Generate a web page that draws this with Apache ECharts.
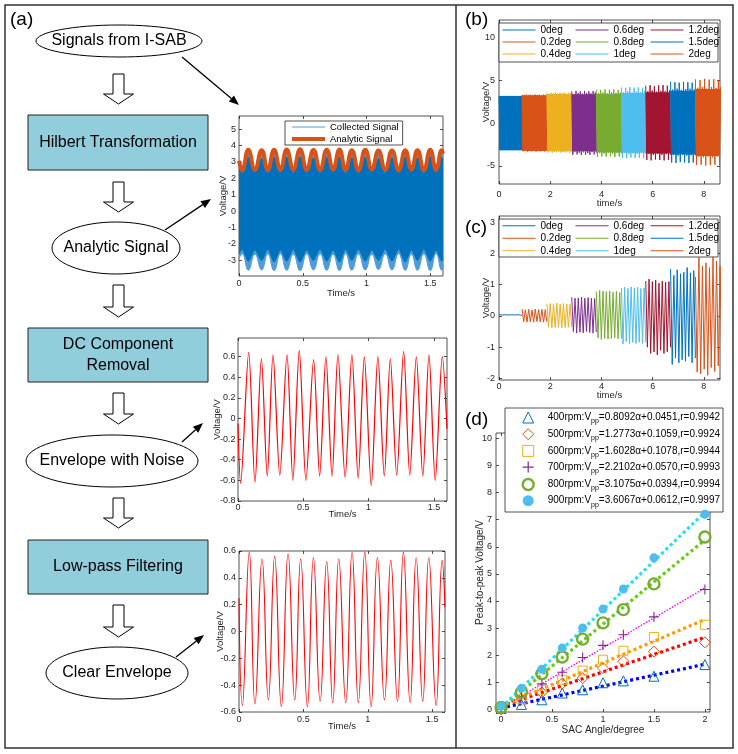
<!DOCTYPE html>
<html><head><meta charset="utf-8">
<script src="https://cdn.jsdelivr.net/npm/echarts@6/dist/echarts.min.js"></script>
<style>html,body{margin:0;padding:0;background:#fff}#c{width:738px;height:754px}</style>
</head><body><div id="c"></div>
<script>
// ---------------- DATA ----------------
// (a) chart 1 : collected signal / analytic signal (times of troughs & peaks)
const A1_T = [0,0.025,0.073,0.125,0.178,0.226,0.275,0.325,0.374,0.426,0.479,0.531,0.584,0.636,0.688,0.738,0.788,0.836,0.885,0.937,0.99,1.042,1.094,1.147,1.2,1.252,1.304,1.352,1.4,1.45,1.5,1.546,1.59,1.6];
const A1_ANALYTIC = [3.07,2.5,3.75,2.52,3.72,2.5,3.74,2.52,3.76,2.55,3.77,2.52,3.73,2.5,3.74,2.55,3.76,2.52,3.72,2.5,3.74,2.55,3.7,2.52,3.7,2.5,3.72,2.55,3.72,2.5,3.74,2.52,3.72,3.5];
const A1_LIGHT_LOW = [-2.9,-2.6,-3.6,-2.62,-3.58,-2.6,-3.62,-2.6,-3.6,-2.62,-3.62,-2.6,-3.58,-2.6,-3.6,-2.62,-3.62,-2.58,-3.6,-2.6,-3.58,-2.62,-3.56,-2.6,-3.58,-2.58,-3.6,-2.62,-3.6,-2.6,-3.62,-2.58,-3.6,-3.3];
const A1_DARK_UP = [2.6,2.3,3.3,2.35,3.2,2.3,3.3,2.35,3.3,2.3,3.3,2.35,3.25,2.3,3.3,2.35,3.3,2.3,3.25,2.3,3.3,2.35,3.2,2.3,3.25,2.3,3.3,2.35,3.25,2.3,3.3,2.35,3.3,3.1];
const A1_DARK_LOW = [-2.6,-2.3,-3.05,-2.35,-3.0,-2.3,-3.1,-2.35,-3.05,-2.3,-3.1,-2.35,-3.0,-2.3,-3.05,-2.35,-3.1,-2.3,-3.0,-2.3,-3.05,-2.35,-3.0,-2.3,-3.05,-2.3,-3.1,-2.35,-3.0,-2.3,-3.05,-2.35,-3.05,-2.9];
const A1_X_TICKS = [0,0.5,1,1.5];
const A1_Y_TICKS = [-3,-2,-1,0,1,2,3,4,5];

// (a) chart 2 : envelope with noise (extremes)
const A2_T = [0,0.02,0.082,0.13,0.179,0.224,0.268,0.32,0.375,0.42,0.469,0.52,0.579,0.625,0.673,0.72,0.765,0.82,0.872,0.92,0.967,1.02,1.071,1.12,1.166,1.215,1.268,1.315,1.365,1.415,1.462,1.51,1.564,1.6];
const A2_V = [-0.05,-0.63,0.64,-0.62,0.58,-0.56,0.62,-0.55,0.62,-0.6,0.66,-0.6,0.57,-0.56,0.6,-0.56,0.62,-0.57,0.62,-0.58,0.6,-0.65,0.6,-0.56,0.58,-0.55,0.65,-0.55,0.6,-0.56,0.62,-0.6,0.6,-0.1];
const A2_Y_TICKS = [-0.8,-0.6,-0.4,-0.2,0,0.2,0.4,0.6];

// (a) chart 3 : clear envelope (extremes)
const A3_T = [0,0.026,0.080,0.124,0.179,0.228,0.277,0.329,0.381,0.433,0.479,0.531,0.578,0.630,0.681,0.728,0.775,0.829,0.878,0.927,0.977,1.026,1.075,1.130,1.179,1.231,1.277,1.329,1.376,1.427,1.474,1.531,1.578,1.6];
const A3_V = [0.25,-0.55,0.59,-0.54,0.54,-0.51,0.56,-0.56,0.58,-0.51,0.54,-0.56,0.55,-0.52,0.52,-0.53,0.54,-0.53,0.59,-0.53,0.59,-0.56,0.55,-0.51,0.53,-0.52,0.59,-0.53,0.55,-0.52,0.55,-0.55,0.53,0.18];
const A3_Y_TICKS = [-0.6,-0.4,-0.2,0,0.2,0.4,0.6];

// (b),(c) segments
const DEG_NAMES = ['0deg','0.2deg','0.4deg','0.6deg','0.8deg','1deg','1.2deg','1.5deg','2deg'];
const DEG_COLORS = ['#0072BD','#D95319','#EDB120','#7E2F8E','#77AC30','#4DBEEE','#A2142F','#0072BD','#D95319'];
const SEG_BOUNDS = [0,0.9,1.87,2.84,3.8,4.78,5.73,6.7,7.67,8.7];
const B_TOPS = [
 [3.16,3.16,3.16,3.16,3.16,3.16,3.16,3.16,3.16,3.16,3.16,3.16],
 [3.3,3.26,3.32,3.28,3.3,3.25,3.33,3.27,3.31,3.26,3.32,3.28],
 [3.55,3.4,3.52,3.45,3.56,3.42,3.5,3.46,3.55,3.4,3.52,3.48],
 [3.7,3.4,3.75,3.5,3.68,3.42,3.74,3.5,3.7,3.45,3.72,3.55],
 [3.9,3.5,3.85,3.55,3.92,3.45,3.88,3.6,3.9,3.5,3.86,3.55],
 [4.15,3.6,4.1,3.7,4.18,3.55,4.12,3.65,4.15,3.6,4.1,3.7],
 [4.35,3.7,4.4,3.8,4.3,3.65,4.38,3.75,4.42,3.7,4.35,3.8],
 [4.8,3.9,4.75,4.0,4.7,3.85,4.8,3.95,4.75,4.0,4.7,3.9],
 [5.1,4.1,5.0,4.2,5.15,4.0,5.05,4.2,5.1,4.1,5.0,4.2]];
const B_BOTS = [
 [-3.16,-3.16,-3.16,-3.16,-3.16,-3.16,-3.16,-3.16,-3.16,-3.16,-3.16,-3.16],
 [-3.3,-3.26,-3.32,-3.27,-3.3,-3.25,-3.32,-3.28,-3.3,-3.26,-3.31,-3.27],
 [-3.42,-3.3,-3.45,-3.35,-3.4,-3.32,-3.44,-3.36,-3.42,-3.3,-3.45,-3.38],
 [-3.7,-3.35,-3.65,-3.45,-3.72,-3.4,-3.68,-3.5,-3.7,-3.38,-3.66,-3.45],
 [-3.95,-3.5,-3.9,-3.55,-3.92,-3.45,-3.88,-3.6,-3.95,-3.5,-3.9,-3.55],
 [-4.05,-3.5,-4.1,-3.6,-4.0,-3.55,-4.08,-3.6,-4.05,-3.5,-4.1,-3.6],
 [-4.3,-3.6,-4.35,-3.7,-4.25,-3.6,-4.3,-3.7,-4.35,-3.6,-4.3,-3.7],
 [-4.6,-3.7,-4.65,-3.8,-4.55,-3.7,-4.6,-3.8,-4.65,-3.75,-4.6,-3.7],
 [-4.9,-3.9,-4.85,-4.0,-4.95,-3.9,-4.9,-4.0,-4.85,-3.9,-4.9,-4.0]];
// solid core of each block in (b)
const B_CORE_TOP = [3.16,3.25,3.38,3.35,3.42,3.5,3.6,3.75,3.95];
const B_CORE_BOT = [-3.16,-3.25,-3.3,-3.3,-3.42,-3.45,-3.55,-3.65,-3.85];
const B_X_TICKS = [0,2,4,6,8];
const B_Y_TICKS = [-5,0,5,10];

const C_TOPS = [
 [0.04,0.03,0.04,0.03,0.04,0.03,0.04,0.03],
 [0.22,0.2,0.21,0.19,0.22,0.2,0.21,0.2],
 [0.38,0.4,0.39,0.41,0.38,0.4,0.39,0.37],
 [0.6,0.57,0.58,0.6,0.57,0.59,0.57,0.56],
 [0.78,0.82,0.8,0.78,0.8,0.76,0.79,0.75],
 [0.9,0.92,0.88,0.93,0.9,0.92,0.88,0.9],
 [1.12,1.18,1.1,1.15,1.05,1.12,1.08,1.1],
 [1.5,1.3,1.48,1.35,1.4,1.55,1.38,1.45],
 [1.25,1.88,1.6,1.7,1.55,1.9,1.75,1.6]];
const C_BOTS = [
 [0.0,0.01,0.0,0.01,0.0,0.01,0.0,0.01],
 [-0.18,-0.2,-0.19,-0.2,-0.18,-0.19,-0.2,-0.19],
 [-0.36,-0.38,-0.37,-0.36,-0.38,-0.37,-0.36,-0.35],
 [-0.5,-0.55,-0.52,-0.54,-0.5,-0.53,-0.55,-0.52],
 [-0.7,-0.75,-0.72,-0.74,-0.72,-0.7,-0.73,-0.72],
 [-0.9,-0.82,-0.88,-0.85,-0.88,-0.84,-0.88,-0.85],
 [-1.0,-1.2,-1.15,-1.25,-1.1,-1.2,-1.15,-1.0],
 [-1.55,-1.35,-1.5,-1.4,-1.45,-1.3,-1.5,-1.35],
 [-1.8,-1.85,-1.7,-1.9,-1.65,-1.78,-1.6,-1.5]];
const C_Y_TICKS = [-2,-1,0,1,2,3];

// (d) peak-to-peak voltage vs angle
const D_ANGLES = [0,0.2,0.4,0.6,0.8,1,1.2,1.5,2];
const D_400 = [0.03,0.18,0.35,0.6,0.72,0.98,1.05,1.22,1.65];
const D_500 = [0.0,0.38,0.62,0.95,1.15,1.52,1.77,2.13,2.47];
const D_600 = [0.07,0.37,0.72,1.09,1.43,1.83,2.16,2.67,3.12];
const D_700 = [0.07,0.47,0.94,1.37,1.91,2.36,2.75,3.41,4.42];
const D_800 = [0.07,0.63,1.31,1.93,2.59,3.19,3.68,4.63,6.36];
const D_900 = [0.12,0.78,1.48,2.26,3.0,3.7,4.44,5.59,7.2];
const D_RPM = ['400rpm','500rpm','600rpm','700rpm','800rpm','900rpm'];
const D_SLOPE = [0.8092,1.2773,1.6028,2.2102,3.1075,3.6067];
const D_INTER = [0.0451,0.1059,0.1078,0.0570,0.0394,0.0612];
const D_R = [0.9942,0.9924,0.9944,0.9993,0.9994,0.9997];
const D_X_TICKS = [0,0.5,1,1.5,2];
const D_Y_TICKS = [0,1,2,3,4,5,6,7,8,9,10];

// ---------------- BUILD ----------------
const FONT = '"Liberation Sans", Arial, sans-serif';
const AX = '#262626';
const zip = (t, v) => t.map((x, i) => [x, v[i]]);

const grids = [
  {left:239, top:116, width:204, height:160},
  {left:238, top:338, width:209, height:163},
  {left:239, top:551, width:206, height:161},
  {left:499, top:20,  width:221, height:164},
  {left:499, top:216, width:221, height:164},
  {left:496, top:433, width:214, height:279}
].map(g => Object.assign(g, {show:true, borderColor:AX, borderWidth:0.8, backgroundColor:'rgba(0,0,0,0)', containLabel:false, outerBoundsMode:'none'}));

const xAxes = [], yAxes = [];
function tick(vals){ return {show:true, inside:true, length:3, customValues:vals, lineStyle:{color:AX, width:0.8}}; }
function addAxes(gi, c){
  const base = {gridIndex:gi, type:'value', splitLine:{show:false}, axisLine:{show:false, onZero:false}};
  const xi = xAxes.length, yi = yAxes.length;
  xAxes.push(Object.assign({}, base, {min:c.x[0], max:c.x[1], position:'bottom', axisTick:tick(c.xt),
    axisLabel:{customValues:c.xt, fontSize:9, color:AX, margin:c.xm, fontFamily:FONT},
    name:c.xn, nameLocation:'middle', nameGap:c.xg, nameMoveOverlap:false,
    nameTextStyle:{fontSize:c.nf||9.5, color:AX, fontFamily:FONT}}));
  xAxes.push(Object.assign({}, base, {min:c.x[0], max:c.x[1], position:'top', axisTick:tick(c.xt), axisLabel:{show:false}}));
  yAxes.push(Object.assign({}, base, {min:c.y[0], max:c.y[1], position:'left', axisTick:tick(c.yt),
    axisLabel:{customValues:c.yt, fontSize:9, color:AX, margin:c.ym, fontFamily:FONT},
    name:c.yn, nameLocation:'middle', nameGap:c.yg, nameMoveOverlap:false,
    nameTextStyle:{fontSize:c.nf||9.5, color:AX, fontFamily:FONT}}));
  yAxes.push(Object.assign({}, base, {min:c.y[0], max:c.y[1], position:'right', axisTick:tick(c.yt), axisLabel:{show:false}}));
  return {xAxisIndex:xi, yAxisIndex:yi};
}
const ax0 = addAxes(0,{x:[0,1.6],xt:A1_X_TICKS,xm:3.5,xg:12,xn:'Time/s', y:[-3.95,5.8],yt:A1_Y_TICKS,ym:3,yg:11,yn:'Voltage/V'});
const ax1 = addAxes(1,{x:[0,1.6],xt:A1_X_TICKS,xm:2,xg:8,xn:'Time/s', y:[-0.8,0.78],yt:A2_Y_TICKS,ym:2.5,yg:16,yn:'Voltage/V'});
const ax2 = addAxes(2,{x:[0,1.6],xt:A1_X_TICKS,xm:3.5,xg:9,xn:'Time/s', y:[-0.6,0.6],yt:A3_Y_TICKS,ym:3,yg:14,yn:'Voltage/V'});
const ax3 = addAxes(3,{x:[0,8.63],xt:B_X_TICKS,xm:6,xg:14,xn:'time/s', y:[-7.1,12],yt:B_Y_TICKS,ym:4,yg:8,yn:'Voltage/V'});
const ax4 = addAxes(4,{x:[0,8.63],xt:B_X_TICKS,xm:2,xg:10,xn:'time/s', y:[-2.05,3.2],yt:C_Y_TICKS,ym:4,yg:8,yn:'Voltage/V'});
const ax5 = addAxes(5,{x:[-0.05,2.05],xt:D_X_TICKS,xm:3.5,xg:13,xn:'SAC Angle/degree', y:[-0.1,10.2],yt:D_Y_TICKS,ym:4,yg:11,yn:'Peak-to-peak Voltage/V', nf:10});

const series = [];
// chart 1 : upper/lower bands filled towards an overlapping origin (no seam at 0)
const LIGHT = '#4E9DD8', DARK = '#0072BD';
series.push(Object.assign({type:'line', name:'Collected Signal', data:zip(A1_T, A1_ANALYTIC), smooth:0.5, symbol:'none',
  lineStyle:{width:1, color:LIGHT}, itemStyle:{color:LIGHT}, areaStyle:{color:LIGHT, opacity:1, origin:-1}, z:1}, ax0));
series.push(Object.assign({type:'line', name:'c-low', data:zip(A1_T, A1_LIGHT_LOW), smooth:0.5, symbol:'none',
  lineStyle:{width:1, color:LIGHT}, areaStyle:{color:LIGHT, opacity:1, origin:1}, z:1}, ax0));
series.push(Object.assign({type:'line', name:'c-dark-up', data:zip(A1_T, A1_DARK_UP), smooth:0.2, symbol:'none',
  lineStyle:{width:1, color:DARK}, areaStyle:{color:DARK, opacity:1, origin:-1}, z:1}, ax0));
series.push(Object.assign({type:'line', name:'c-dark-low', data:zip(A1_T, A1_DARK_LOW), smooth:0.2, symbol:'none',
  lineStyle:{width:1, color:DARK}, areaStyle:{color:DARK, opacity:1, origin:1}, z:1}, ax0));
series.push(Object.assign({type:'line', name:'Analytic Signal', data:zip(A1_T, A1_ANALYTIC), smooth:0.5, symbol:'none',
  lineStyle:{width:4, color:'#D95319'}, itemStyle:{color:'#D95319'}, z:3}, ax0));
// chart 2, 3
series.push(Object.assign({type:'line', name:'noisy', data:zip(A2_T, A2_V), smooth:0.3, symbol:'none',
  lineStyle:{width:1.2, color:'#FF0000'}}, ax1));
series.push(Object.assign({type:'line', name:'clear', data:zip(A3_T, A3_V), smooth:0.5, symbol:'none',
  lineStyle:{width:1.1, color:'#FF0000'}}, ax2));
// (b), (c)
function zigzag(k, tops, bots){
  const t0 = SEG_BOUNDS[k], t1 = SEG_BOUNDS[k+1], n = tops.length * 2, out = [];
  for (let j = 0; j < n; j++) {
    out.push([t0 + (t1 - t0) * j / (n - 1), j % 2 === 0 ? tops[j/2] : bots[(j-1)/2]]);
  }
  return out;
}
DEG_NAMES.forEach((nm, k) => {
  series.push(Object.assign({type:'line', name:nm, data:zigzag(k, B_TOPS[k], B_BOTS[k]), symbol:'none',
    lineStyle:{width:1, color:DEG_COLORS[k]}, itemStyle:{color:DEG_COLORS[k]},
    markArea:{silent:true, itemStyle:{color:DEG_COLORS[k], opacity:1, borderWidth:0},
      data:[[{xAxis:SEG_BOUNDS[k], yAxis:B_CORE_BOT[k]}, {xAxis:Math.min(SEG_BOUNDS[k+1], 8.63), yAxis:B_CORE_TOP[k]}]]}}, ax3));
});
DEG_NAMES.forEach((nm, k) => {
  series.push(Object.assign({type:'line', name:nm, data:zigzag(k, C_TOPS[k], C_BOTS[k]), symbol:'none',
    lineStyle:{width:1, color:DEG_COLORS[k]}, itemStyle:{color:DEG_COLORS[k]}}, ax4));
});
// (d)
const D_VALS = [D_400, D_500, D_600, D_700, D_800, D_900];
const D_MARK = [
  {symbol:'triangle', size:10, color:'#0072BD', fill:'rgba(0,0,0,0)', bw:1},
  {symbol:'diamond', size:11, color:'#D95319', fill:'rgba(0,0,0,0)', bw:1},
  {symbol:'rect', size:9, color:'#EDB120', fill:'rgba(0,0,0,0)', bw:1},
  {symbol:'path://M4.45,0H5.55V4.45H10V5.55H5.55V10H4.45V5.55H0V4.45H4.45Z', size:10, color:'#7E2F8E', fill:'#7E2F8E', bw:0},
  {symbol:'circle', size:11, color:'#77AC30', fill:'rgba(0,0,0,0)', bw:2.4},
  {symbol:'circle', size:9, color:'#4DBEEE', fill:'#4DBEEE', bw:0}];
const FIT_STYLE = [
  {c:'#0000FF', w:3.2, d:[3,3]}, {c:'#FF0000', w:3.2, d:[3,3]}, {c:'#FF9A00', w:3.2, d:[3,3]},
  {c:'#FF00FF', w:1.4, d:[1.5,1.5]}, {c:'#66CC11', w:3.2, d:[3,3]}, {c:'#22E2F2', w:3.2, d:[3,3]}];
D_RPM.forEach((nm, i) => {
  const f = FIT_STYLE[i];
  series.push(Object.assign({type:'line', name:nm + ' fit', symbol:'none', silent:true,
    data:[[0, D_INTER[i]], [2, D_SLOPE[i] * 2 + D_INTER[i]]],
    lineStyle:{color:f.c, width:f.w, type:f.d, cap:'butt'}, z:2}, ax5));
});
D_RPM.forEach((nm, i) => {
  const m = D_MARK[i];
  series.push(Object.assign({type:'scatter', name:nm, data:zip(D_ANGLES, D_VALS[i]), symbol:m.symbol, symbolSize:m.size,
    itemStyle:{color:m.fill, borderColor:m.color, borderWidth:m.bw, opacity:1}, z:3}, ax5));
});

// legends
const legends = [];
legends.push({left:285, top:121, orient:'vertical', padding:[1,4,1,5], itemWidth:33, itemHeight:10, itemGap:2,
  backgroundColor:'#fff', borderColor:AX, borderWidth:0.8, selectedMode:false,
  itemStyle:{opacity:0, color:'rgba(0,0,0,0)', borderWidth:0},
  textStyle:{fontSize:9.5, lineHeight:10, color:'#000', fontFamily:FONT},
  data:[{name:'Collected Signal', lineStyle:{width:1, color:LIGHT}}, {name:'Analytic Signal', lineStyle:{width:4, color:'#D95319'}}]});
[[502,575,650,24.5,11,1],[502,575,650,220,11.5,1]].forEach(p => {
  for (let col = 0; col < 3; col++) {
    legends.push({left:p[col], top:p[3], orient:'vertical', padding:0, itemWidth:33, itemHeight:8, itemGap:p[5],
      selectedMode:false, itemStyle:{opacity:0, color:'rgba(0,0,0,0)', borderWidth:0}, lineStyle:{width:1},
      textStyle:{fontSize:10, lineHeight:p[4], color:'#000', fontFamily:FONT}, z:10,
      data:DEG_NAMES.slice(col*3, col*3+3)});
  }
});
legends.push({left:521.5, top:411.5, orient:'vertical', padding:0, itemWidth:11, itemHeight:11, itemGap:3.2,
  selectedMode:false, z:10,
  data:D_RPM.map((nm, i) => ({name:nm, itemStyle:{color:D_MARK[i].fill, borderColor:D_MARK[i].color, borderWidth:D_MARK[i].bw}})),
  formatter: nm => { const i = D_RPM.indexOf(nm);
    return '{sp|}{n|' + nm + ':V}{s|pp}{n|=' + D_SLOPE[i].toFixed(4) + '}{g|α}{n|+' + D_INTER[i].toFixed(4) + ',r=' + D_R[i].toFixed(4) + '}'; },
  textStyle:{fontSize:10, color:'#000', fontFamily:FONT, rich:{
    sp:{width:9, lineHeight:15},
    n:{fontSize:10, lineHeight:15, color:'#000', fontFamily:FONT},
    s:{fontSize:7, lineHeight:6, verticalAlign:'bottom', color:'#000', fontFamily:FONT},
    g:{fontSize:10, lineHeight:15, color:'#000', fontFamily:FONT}}}});

// ---------------- GRAPHICS (flowchart, frames) ----------------
const g = [];
const TXT = (x, y, text, size) => ({type:'text', x, y, z:20, style:{text, font:(size||16) + 'px ' + FONT, fill:'#000', align:'center', verticalAlign:'middle'}});
g.push({type:'rect', z:1, shape:{x:5, y:5, width:728, height:743}, style:{fill:'none', stroke:'#333', lineWidth:1.5}});
g.push({type:'line', z:1, shape:{x1:456, y1:5, x2:456, y2:748}, style:{stroke:'#333', lineWidth:1.5}});
g.push({type:'text', x:10, y:20, z:20, style:{text:'(a)', font:'19px ' + FONT, fill:'#000', verticalAlign:'middle'}});
g.push({type:'text', x:465, y:20, z:20, style:{text:'(b)', font:'19px ' + FONT, fill:'#000', verticalAlign:'middle'}});
g.push({type:'text', x:465, y:228, z:20, style:{text:'(c)', font:'19px ' + FONT, fill:'#000', verticalAlign:'middle'}});
g.push({type:'text', x:465, y:420, z:20, style:{text:'(d)', font:'19px ' + FONT, fill:'#000', verticalAlign:'middle'}});
// legend boxes for (b),(c),(d)
g.push({type:'rect', z:3, shape:{x:499, y:23, width:219, height:39}, style:{fill:'#fff', stroke:AX, lineWidth:0.8}});
g.push({type:'rect', z:3, shape:{x:499, y:219, width:219, height:38}, style:{fill:'#fff', stroke:AX, lineWidth:0.8}});
g.push({type:'rect', z:3, shape:{x:505, y:408, width:218, height:104}, style:{fill:'#fff', stroke:AX, lineWidth:0.8}});
// flowchart
const ell = (cx, cy, rx, ry, t) => { g.push({type:'ellipse', z:10, shape:{cx, cy, rx, ry}, style:{fill:'#fff', stroke:'#000', lineWidth:1}}); g.push(TXT(cx, cy, t)); };
const box = (y, h, lines) => { g.push({type:'rect', z:10, shape:{x:28, y, width:180, height:h}, style:{fill:'#92CDDC', stroke:'#222', lineWidth:1}});
  lines.forEach((t, i) => g.push(TXT(118, y + h/2 + (i - (lines.length-1)/2) * 21, t))); };
const hollow = (y0, y1) => { const cx = 118.5, sw = 5.5, hw = 15, hh = 10;
  g.push({type:'polygon', z:10, shape:{points:[[cx-sw,y0],[cx+sw,y0],[cx+sw,y1-hh],[cx+hw,y1-hh],[cx,y1],[cx-hw,y1-hh],[cx-sw,y1-hh]]}, style:{fill:'#fff', stroke:'#000', lineWidth:1}}); };
const arrow = (x1, y1, x2, y2) => { const dx = x2-x1, dy = y2-y1, L = Math.hypot(dx, dy), ux = dx/L, uy = dy/L, hl = 10, hw = 4;
  const bx = x2 - ux*hl, by = y2 - uy*hl;
  g.push({type:'line', z:10, shape:{x1, y1, x2:bx, y2:by}, style:{stroke:'#000', lineWidth:1.3}});
  g.push({type:'polygon', z:10, shape:{points:[[x2,y2],[bx-uy*hw, by+ux*hw],[bx+uy*hw, by-ux*hw]]}, style:{fill:'#000'}}); };
ell(119, 41, 83, 16, 'Signals from I-SAB');
hollow(74, 104);
box(115, 55, ['Hilbert Transformation']);
hollow(182, 212);
ell(116, 248, 64, 26, 'Analytic Signal');
hollow(285, 317);
box(328, 54, ['DC Component', 'Removal']);
hollow(393, 424);
ell(112, 461, 86, 26, 'Envelope with Noise');
hollow(498, 528);
box(540, 54, ['Low-pass Filtering']);
hollow(605, 637);
ell(117, 673, 71, 26, 'Clear Envelope');
arrow(182, 57, 239, 105);
arrow(165, 230, 211, 199);
arrow(182, 442, 203, 423);
arrow(176, 657, 204, 635);

const chart = echarts.init(document.getElementById('c'), null, {renderer:'canvas', width:738, height:754});
chart.setOption({
  animation:false,
  backgroundColor:'#fff',
  textStyle:{fontFamily:FONT},
  grid:grids, xAxis:xAxes, yAxis:yAxes, series, legend:legends, graphic:g
});
</script></body></html>
